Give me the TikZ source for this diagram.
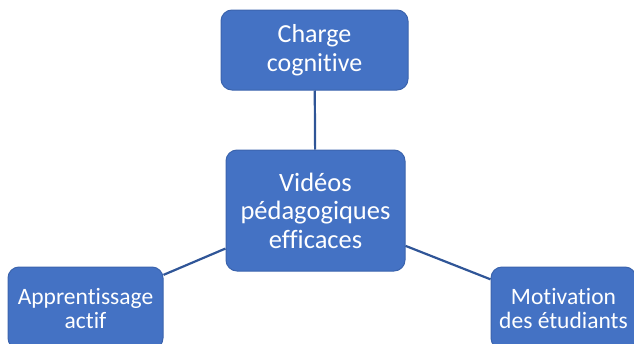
\documentclass[tikz,border=0pt]{standalone}
\usepackage{fontspec}
\setmainfont[Ligatures=NoCommon]{Carlito}
\definecolor{boxfill}{HTML}{4472C4}
\definecolor{boxline}{HTML}{3B64AD}
\definecolor{linkcol}{HTML}{2F5597}
\begin{document}
\begin{tikzpicture}[x=1pt,y=-1pt,
  topic/.style={draw=boxline, line width=1pt, fill=boxfill, rounded corners=11pt,
    text=white, align=center, inner sep=0pt},
  link/.style={draw=linkcol, line width=2.2pt}]
\useasboundingbox (0,0) rectangle (634,343);
\clip (0,0) rectangle (634,343);
\node[topic, minimum width=187pt, minimum height=80pt, font=\fontsize{26}{29}\selectfont] (top) at (314.5,50) {Charge\\cognitive};
\node[topic, minimum width=179pt, minimum height=121pt, font=\fontsize{26.5}{28.5}\selectfont] (mid) at (315.5,210.5) {Vidéos\\pédagogiques\\efficaces};
\node[topic, minimum width=155pt, minimum height=82pt, font=\fontsize{23.5}{24}\selectfont] (left) at (85.5,308) {Apprentissage\\actif};
\node[topic, minimum width=145pt, minimum height=82pt, font=\fontsize{23.5}{24}\selectfont] (right) at (563.5,308) {Motivation\\des étudiants};
\draw[link] (top) -- (mid);
\draw[link] (left) -- (mid);
\draw[link] (mid) -- (right);
\end{tikzpicture}
\end{document}
